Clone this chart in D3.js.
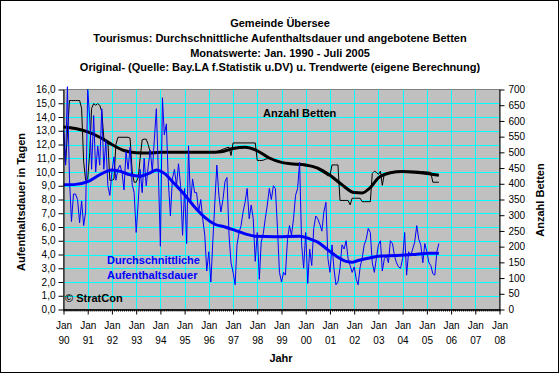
<!DOCTYPE html>
<html>
<head>
<meta charset="utf-8">
<script src="https://cdn.jsdelivr.net/npm/d3@7"></script>
<style>
  body { margin: 0; background: #fff; }
  svg text { font-family: "Liberation Sans", Arial, sans-serif; }
</style>
</head>
<body>
<script>
// Monatswerte Jan. 1990 - Juli 2005
const stayOriginal = [
  13.0, 10.5, 16.2, 9.5, 6.4, 8.4, 8.4, 8.0, 6.3, 7.9, 6.1, 7.1,
  16.0, 13.9, 10.2, 14.1, 10.0, 11.9, 10.5, 14.6, 10.2, 12.3, 9.0, 8.3,
  10.0, 11.1, 9.4, 10.2, 10.5, 10.0, 8.7, 11.5, 10.2, 11.8, 9.1, 8.5,
  5.6, 7.8, 10.2, 8.5, 11.0, 9.0, 10.4, 11.6, 10.0, 12.3, 14.6, 10.0,
  4.6, 15.4, 12.7, 13.5, 9.3, 6.8, 9.5, 10.2, 9.0, 10.6, 9.0, 5.4,
  8.8, 4.8, 11.9, 7.7, 9.5, 8.5, 8.5, 7.1, 8.0, 6.6, 5.4, 2.8,
  4.2, 2.0, 4.9, 7.8, 10.5, 8.3, 7.1, 8.0, 9.3, 9.6, 5.4, 3.4,
  2.7, 1.8, 4.7, 5.6, 6.1, 7.1, 7.8, 8.8, 6.6, 7.6, 6.6, 3.5,
  5.6, 2.2, 4.9, 5.5, 6.6, 7.6, 8.8, 8.0, 9.0, 8.8, 5.9, 2.7,
  2.0, 2.7, 2.5, 5.1, 6.1, 5.4, 6.6, 8.3, 8.8, 10.7, 4.7, 3.0,
  5.6, 1.9, 4.4, 3.2, 5.9, 6.8, 6.6, 6.2, 5.7, 7.1, 7.8, 3.7,
  2.7, 4.7, 3.0, 1.8, 2.0, 3.0, 4.7, 4.4, 5.0, 3.7, 3.2, 2.7,
  3.1, 2.2, 1.8, 3.1, 3.7, 4.7, 5.1, 5.9, 5.6, 3.4, 2.7, 3.7,
  4.7, 5.0, 2.8, 3.7, 3.9, 3.4, 5.0, 4.8, 3.9, 3.4, 3.1, 3.0,
  3.7, 5.6, 2.5, 4.2, 3.9, 4.4, 4.9, 6.1, 5.1, 4.7, 3.4, 4.8,
  4.2, 3.4, 3.2, 2.6, 2.5, 4.2, 4.8
];

const bedsOriginal = [
  570, 460, 560, 665, 665, 665, 665, 665, 665, 640, 470, 411,
  415, 500, 640, 655, 650, 655, 650, 630, 545, 540, 535, 411,
  411, 415, 525, 548, 548, 548, 548, 548, 548, 545, 440, 405,
  405, 420, 480, 540, 542, 542, 525, 500, 500, 500, 500, 500,
  500, 500, 500, 500, 500, 500, 500, 500, 500, 500, 500, 500,
  500, 500, 500, 500, 500, 500, 500, 500, 500, 500, 500, 500,
  500, 500, 500, 500, 502, 505, 507, 510, 512, 515, 516, 490,
  530, 530, 530, 530, 530, 530, 530, 530, 530, 530, 530, 530,
  474, 474, 474, 475, 478, 480, 480, 478, 476, 474, 472, 470,
  468, 467, 466, 465, 464, 463, 462, 461, 460, 459, 458, 458,
  457, 456, 456, 455, 453, 450, 446, 442, 438, 434, 430, 425,
  427, 460, 460, 460, 460, 347, 347, 347, 347, 347, 333, 354,
  354, 354, 354, 354, 343, 343, 343, 343, 343, 433, 440, 437,
  430, 440, 395, 432, 434, 435, 436, 437, 438, 438, 439, 439,
  440, 440, 440, 440, 440, 440, 440, 440, 440, 439, 439, 438,
  438, 437, 436, 405, 405, 405, 405
];

// Trendwerte: [Monat seit Jan. 1990, Wert]
const stayTrend = [
  [0, 9.07], [6, 9.1], [12, 9.3], [18, 9.8], [24, 10.15], [28, 10.05],
  [33, 9.8], [38, 9.7], [43, 9.94], [46, 10.15], [50, 9.9], [55, 9.15],
  [60, 8.35], [65, 7.45], [70, 6.7], [75, 6.2], [80, 6.0], [85, 5.75],
  [90, 5.5], [95, 5.33], [105, 5.3], [117, 5.33], [122, 5.14], [126, 4.9],
  [131, 4.34], [136, 3.8], [140, 3.5], [143, 3.44], [146, 3.56], [151, 3.73],
  [156, 3.88], [165, 3.93], [173, 4.0], [181, 4.1], [186, 4.1]
];

const bedsTrend = [
  [0, 581], [6, 576], [12, 565], [18, 548], [24, 525], [30, 506],
  [36, 499], [42, 498], [48, 500], [60, 500], [72, 500], [78, 502],
  [84, 512], [90, 516], [96, 505], [102, 482], [108, 468], [114, 463],
  [120, 460], [126, 450], [132, 427], [138, 397], [144, 372], [148, 371],
  [152, 388], [156, 419], [162, 435], [168, 439], [174, 437], [180, 433],
  [186, 427]
];

const titleLines = [
  "Gemeinde Übersee",
  "Tourismus: Durchschnittliche Aufenthaltsdauer und angebotene Betten",
  "Monatswerte: Jan. 1990 - Juli 2005",
  "Original- (Quelle: Bay.LA f.Statistik u.DV) u. Trendwerte (eigene Berechnung)"
];

const yearLabels = ["90", "91", "92", "93", "94", "95", "96", "97", "98", "99",
                    "00", "01", "02", "03", "04", "05", "06", "07", "08"];
const leftTicks = [0, 1, 2, 3, 4, 5, 6, 7, 8, 9, 10, 11, 12, 13, 14, 15, 16];
const rightTicks = [0, 50, 100, 150, 200, 250, 300, 350, 400, 450, 500, 550, 600, 650, 700];

const WIDTH = 560;
const HEIGHT = 374;
const PLOT = {left: 63.5, right: 499.5, top: 89.5, bottom: 309.5};
const FONT = '"Liberation Sans", Arial, sans-serif';

const monthDate = (i) => new Date(Date.UTC(1990, i, 1));
const yearDate = (k) => new Date(Date.UTC(1990 + k, 0, 1));

const x = d3.scaleUtc()
    .domain([yearDate(0), yearDate(18)])
    .range([PLOT.left, PLOT.right]);
const yLeft = d3.scaleLinear().domain([0, 16]).range([PLOT.bottom, PLOT.top]);
const yRight = d3.scaleLinear().domain([0, 700]).range([PLOT.bottom, PLOT.top]);

const deFormat = d3.formatLocale({decimal: ",", thousands: ".", grouping: [3], currency: ["", " €"]}).format(".1f");

const svg = d3.select("body").append("svg")
    .attr("width", WIDTH)
    .attr("height", HEIGHT);

svg.append("rect")
    .attr("x", 0.5).attr("y", 0.5)
    .attr("width", 558).attr("height", 372)
    .attr("fill", "#fff")
    .attr("stroke", "#000");

// titles
svg.append("g")
    .selectAll("text")
    .data(titleLines)
    .join("text")
    .attr("x", 280)
    .attr("y", (d, i) => 27 + i * 14.8)
    .attr("text-anchor", "middle")
    .attr("font-size", 11)
    .attr("font-weight", "bold")
    .text(d => d);

// plot area
svg.append("rect")
    .attr("x", PLOT.left).attr("y", PLOT.top)
    .attr("width", PLOT.right - PLOT.left)
    .attr("height", PLOT.bottom - PLOT.top)
    .attr("fill", "#c0c0c0")
    .attr("stroke", "#808080");

const grid = svg.append("g").attr("class", "grid")
    .attr("stroke", "#00ffff")
    .attr("stroke-width", 1);

grid.selectAll("line.h")
    .data(leftTicks.filter(d => d > 0 && d < 16))
    .join("line")
    .attr("class", "h")
    .attr("x1", PLOT.left).attr("x2", PLOT.right)
    .attr("y1", d => Math.round(yLeft(d)) + 0.5)
    .attr("y2", d => Math.round(yLeft(d)) + 0.5);

grid.selectAll("line.v")
    .data(d3.range(1, 18))
    .join("line")
    .attr("class", "v")
    .attr("x1", d => Math.round(x(yearDate(d))) + 0.5)
    .attr("x2", d => Math.round(x(yearDate(d))) + 0.5)
    .attr("y1", PLOT.top).attr("y2", PLOT.bottom);

// series
const lineOriginal = (scale) => d3.line()
    .x((d, i) => x(monthDate(i)))
    .y(d => scale(d));

const lineTrend = (scale) => d3.line()
    .x(d => x(monthDate(d[0])))
    .y(d => scale(d[1]))
    .curve(d3.curveMonotoneX);

const gseries = svg.append("g").attr("class", "series").attr("fill", "none");

gseries.append("path")
    .attr("d", lineOriginal(yRight)(bedsOriginal))
    .attr("stroke", "#000")
    .attr("stroke-width", 1);

gseries.append("path")
    .attr("d", lineTrend(yRight)(bedsTrend))
    .attr("stroke", "#000")
    .attr("stroke-width", 3);

gseries.append("path")
    .attr("d", lineOriginal(yLeft)(stayOriginal))
    .attr("stroke", "#0000ff")
    .attr("stroke-width", 1);

gseries.append("path")
    .attr("d", lineTrend(yLeft)(stayTrend))
    .attr("stroke", "#0000ff")
    .attr("stroke-width", 3);

// axes
const styleAxis = (g) => {
    g.attr("font-family", FONT).attr("font-size", 10);
    g.selectAll("path.domain").attr("stroke", "#000");
    g.selectAll(".tick line").attr("stroke", "#000");
    g.selectAll(".tick text").attr("fill", "#000");
};

svg.append("g")
    .attr("transform", `translate(${PLOT.left},0)`)
    .call(d3.axisLeft(yLeft).tickValues(leftTicks).tickFormat(deFormat).tickSize(5).tickSizeOuter(0).tickPadding(3))
    .call(styleAxis);

svg.append("g")
    .attr("transform", `translate(${PLOT.right},0)`)
    .call(d3.axisRight(yRight).tickValues(rightTicks).tickSize(5).tickSizeOuter(0).tickPadding(4))
    .call(styleAxis);

// monthly minor ticks
svg.append("g")
    .attr("transform", `translate(0,${PLOT.bottom})`)
    .call(d3.axisBottom(x).ticks(d3.utcMonth.every(1)).tickSize(2).tickSizeOuter(0).tickFormat(""))
    .call(styleAxis);

const xAxis = svg.append("g")
    .attr("transform", `translate(0,${PLOT.bottom})`)
    .call(d3.axisBottom(x).tickValues(yearLabels.map((d, k) => yearDate(k))).tickSize(5).tickSizeOuter(0).tickFormat(""))
    .call(styleAxis);

xAxis.selectAll(".tick").each(function (d, k) {
    const t = d3.select(this).append("text")
        .attr("fill", "#000")
        .attr("text-anchor", "middle");
    t.append("tspan").attr("x", 0).attr("y", 19.5).text("Jan");
    t.append("tspan").attr("x", 0).attr("y", 34).text(yearLabels[k]);
});

// axis titles
svg.append("text")
    .attr("transform", "translate(25,202) rotate(-90)")
    .attr("text-anchor", "middle")
    .attr("font-size", 11)
    .attr("font-weight", "bold")
    .text("Aufenthaltsdauer in Tagen");

svg.append("text")
    .attr("transform", "translate(544,200) rotate(-90)")
    .attr("text-anchor", "middle")
    .attr("font-size", 11)
    .attr("font-weight", "bold")
    .text("Anzahl Betten");

svg.append("text")
    .attr("x", 281).attr("y", 362)
    .attr("text-anchor", "middle")
    .attr("font-size", 11)
    .attr("font-weight", "bold")
    .text("Jahr");

// annotations
svg.append("text")
    .attr("x", 263).attr("y", 117)
    .attr("font-size", 11)
    .attr("font-weight", "bold")
    .text("Anzahl Betten");

svg.append("text")
    .attr("x", 107).attr("y", 264)
    .attr("font-size", 11)
    .attr("font-weight", "bold")
    .attr("fill", "#0000ff")
    .selectAll("tspan")
    .data(["Durchschnittliche", "Aufenthaltsdauer"])
    .join("tspan")
    .attr("x", 107)
    .attr("dy", (d, i) => i === 0 ? 0 : 15)
    .text(d => d);

svg.append("text")
    .attr("x", 65).attr("y", 302)
    .attr("font-size", 11)
    .attr("font-weight", "bold")
    .text("© StratCon");
</script>
</body>
</html>
